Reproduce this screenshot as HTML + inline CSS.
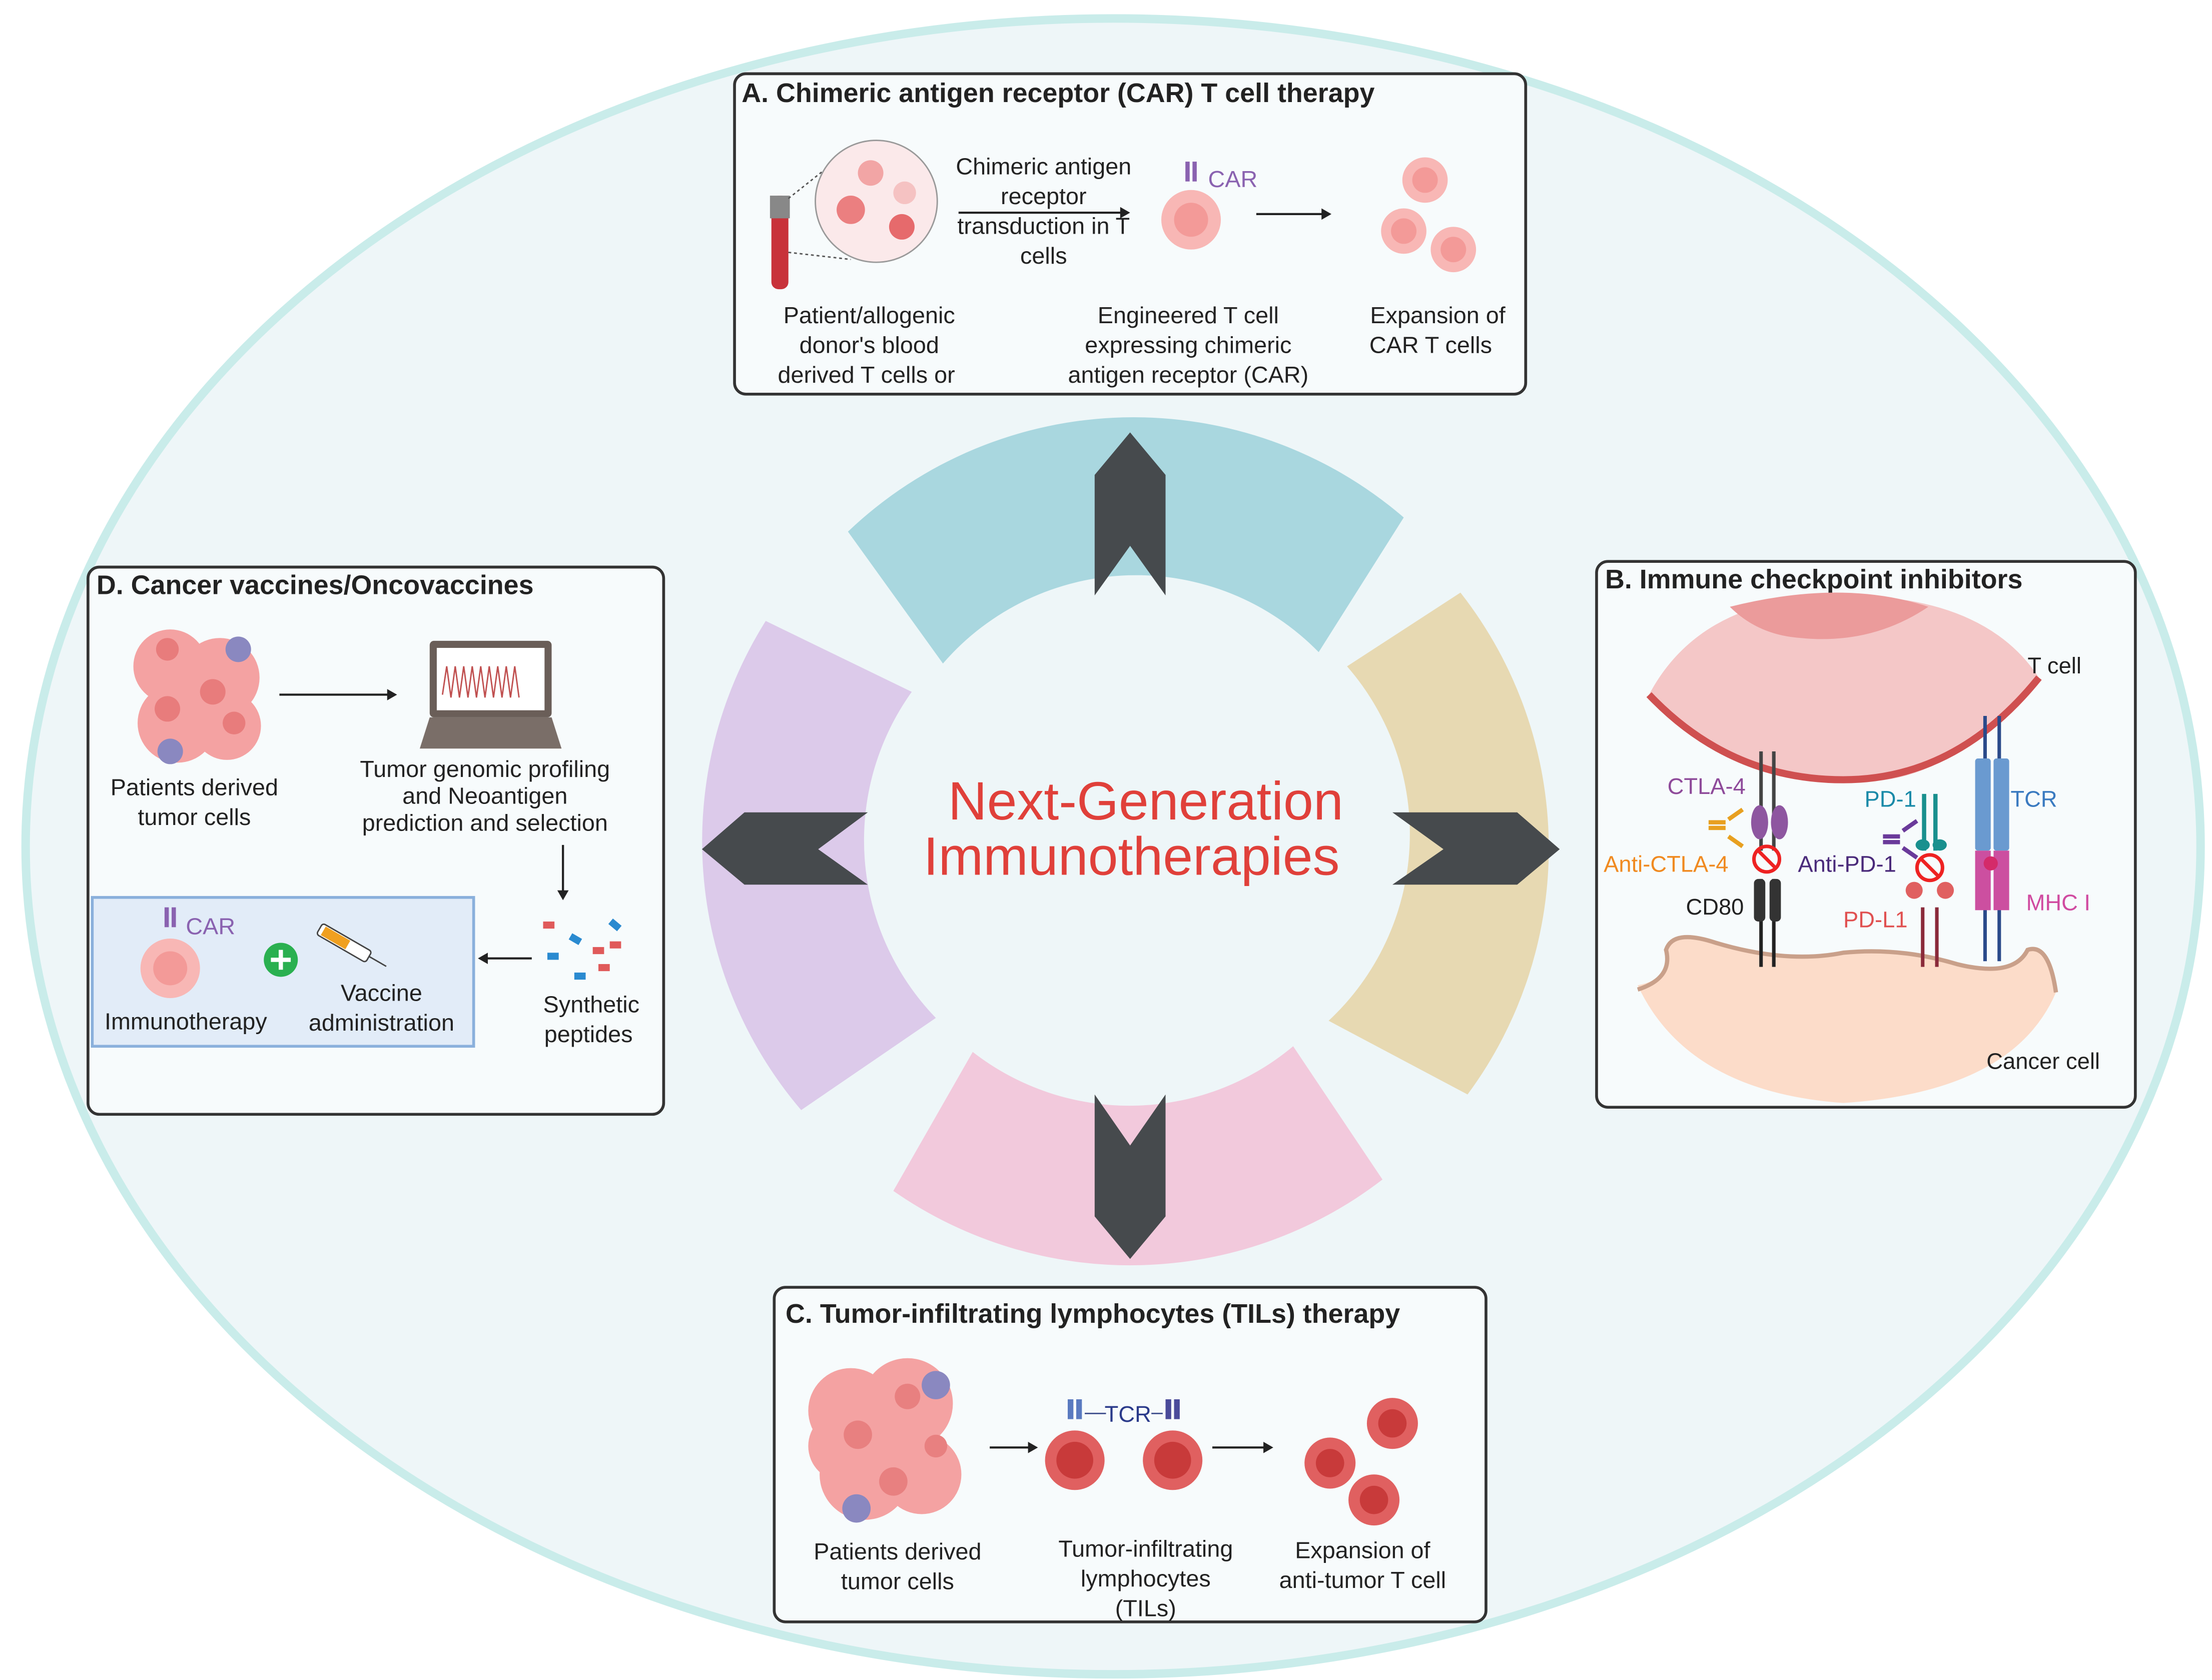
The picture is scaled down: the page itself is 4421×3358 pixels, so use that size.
<!DOCTYPE html>
<html><head><meta charset="utf-8"><style>
html,body{margin:0;padding:0;background:#fff;}
svg{display:block;}
text{font-family:"Liberation Sans",sans-serif;}
</style></head><body>
<svg width="4421" height="3358" viewBox="0 0 1560 1185" xmlns="http://www.w3.org/2000/svg">
<rect width="1560" height="1185" fill="#fff"/>
<ellipse cx="785" cy="597" rx="767" ry="584" fill="#eef6f8" stroke="#c9ecea" stroke-width="6"/>

<g transform="translate(797,592)">
<path d="M-199,-217 A292,292 0 0 1 193,-227 L133,-132 A180,180 0 0 0 -132,-124 Z" fill="#a9d7df"/>
<path d="M233,-174 A292,292 0 0 1 238,180 L140,128 A180,180 0 0 0 153,-122 Z" fill="#e7d9b2"/>
<path d="M-167,248 A292,292 0 0 0 178,240 L115,146 A180,180 0 0 1 -111,150 Z" fill="#f2c9dc"/>
<path d="M-257,-154 A292,292 0 0 0 -232,191 L-137,126 A180,180 0 0 1 -154,-104 Z" fill="#dccaea"/>
</g>
<g fill="#464a4d">
<path d="M797,305 L822,335 L822,420 L797,385 L772,420 L772,335 Z"/>
<path d="M797,888 L822,858 L822,772 L797,808 L772,772 L772,858 Z"/>
<path d="M1100,599 L1070,624 L982,624 L1018,599 L982,573 L1070,573 Z"/>
<path d="M495,599 L525,624 L612,624 L577,599 L612,573 L525,573 Z"/>
</g>
<text x="808" y="578" text-anchor="middle" font-size="38" fill="#e0403a">Next-Generation</text>
<text x="798" y="617" text-anchor="middle" font-size="38" fill="#e0403a">Immunotherapies</text>

<!-- Box A -->
<rect x="518" y="52" width="558" height="226" rx="8" fill="#f7fbfc" stroke="#333" stroke-width="2"/>
<text x="523" y="72" font-size="19" font-weight="bold" fill="#222">A. Chimeric antigen receptor (CAR) T cell therapy</text>
<rect x="544" y="138" width="12" height="66" rx="5" fill="#c8323a"/>
<rect x="543" y="138" width="14" height="16" fill="#888"/>
<line x1="556" y1="140" x2="590" y2="113" stroke="#555" stroke-dasharray="2,2"/>
<line x1="556" y1="178" x2="600" y2="183" stroke="#555" stroke-dasharray="2,2"/>
<circle cx="618" cy="142" r="43" fill="#fbe9ea" stroke="#999"/>
<circle cx="614" cy="122" r="9" fill="#f2a5a5"/><circle cx="600" cy="148" r="10" fill="#eb7f80"/><circle cx="636" cy="160" r="9" fill="#e66a6c"/><circle cx="638" cy="136" r="8" fill="#f5c2c2"/>
<g font-size="16.5" fill="#222" text-anchor="middle">
<text x="736" y="123">Chimeric antigen</text><text x="736" y="144">receptor</text><text x="736" y="165">transduction in T</text><text x="736" y="186">cells</text>
<text x="613" y="228">Patient/allogenic</text><text x="613" y="249">donor's blood</text><text x="611" y="270">derived T cells or</text>
<text x="838" y="228">Engineered T cell</text><text x="838" y="249">expressing chimeric</text><text x="838" y="270">antigen receptor (CAR)</text>
<text x="1014" y="228">Expansion of</text><text x="1009" y="249">CAR T cells</text>
</g>
<line x1="676" y1="150" x2="795" y2="150" stroke="#222" stroke-width="1.5"/><path d="M797,150 l-7,-4 v8z" fill="#222"/>
<circle cx="840" cy="155" r="21" fill="#f8b7b5"/><circle cx="840" cy="155" r="12" fill="#f39a98"/>
<rect x="836" y="114" width="3" height="14" fill="#8a62b0"/><rect x="841" y="114" width="3" height="14" fill="#8a62b0"/>
<text x="852" y="132" font-size="16.5" fill="#8a62b0">CAR</text>
<line x1="886" y1="151" x2="935" y2="151" stroke="#222" stroke-width="1.5"/><path d="M939,151 l-7,-4 v8z" fill="#222"/>
<circle cx="1005" cy="127" r="16" fill="#f8b7b5"/><circle cx="1005" cy="127" r="9" fill="#f39a98"/>
<circle cx="990" cy="163" r="16" fill="#f8b7b5"/><circle cx="990" cy="163" r="9" fill="#f39a98"/>
<circle cx="1025" cy="176" r="16" fill="#f8b7b5"/><circle cx="1025" cy="176" r="9" fill="#f39a98"/>

<!-- Box B -->
<rect x="1126" y="396" width="380" height="385" rx="8" fill="#f7fbfc" stroke="#333" stroke-width="2"/>
<text x="1132" y="415" font-size="19" font-weight="bold" fill="#222">B. Immune checkpoint inhibitors</text>
<path d="M1163,490 Q1200,420 1300,420 Q1400,420 1438,478 Q1370,560 1300,550 Q1220,550 1163,490Z" fill="#f4c7c7"/>
<path d="M1220,428 Q1300,408 1360,428 Q1320,455 1270,450 Q1240,448 1220,428Z" fill="#eb9b9b"/>
<path d="M1163,490 Q1220,550 1300,550 Q1380,550 1438,478" fill="none" stroke="#cf5050" stroke-width="5"/>
<path d="M1155,695 Q1180,690 1175,670 Q1180,655 1210,665 Q1260,680 1300,672 Q1340,668 1380,680 Q1420,690 1430,670 Q1445,665 1450,700 Q1420,770 1300,778 Q1190,770 1155,695Z" fill="#fcdcc9"/>
<path d="M1155,698 Q1180,690 1175,670 Q1180,655 1210,665 Q1260,680 1300,672 Q1340,668 1380,680 Q1420,690 1430,670 Q1445,665 1450,700" fill="none" stroke="#c9a08a" stroke-width="3"/>
<g stroke-width="2.5" fill="none">
<path d="M1242,530 V600 M1251,530 V600" stroke="#444"/>
<path d="M1242,620 V682 M1251,620 V682" stroke="#222"/>
<path d="M1357,560 V600 M1365,560 V600" stroke="#19908e" stroke-width="3"/>
<path d="M1356,640 V682 M1366,640 V682" stroke="#8a2a3a"/>
<path d="M1400,505 V535 M1410,505 V535 M1400,640 V678 M1410,640 V678" stroke="#2a4a8a"/>
</g>
<ellipse cx="1241" cy="580" rx="6" ry="12" fill="#8e56a0"/><ellipse cx="1255" cy="580" rx="6" ry="12" fill="#8e56a0"/>
<rect x="1237" y="620" width="8" height="30" rx="3" fill="#333"/><rect x="1248" y="620" width="8" height="30" rx="3" fill="#333"/>
<circle cx="1246" cy="606" r="9" fill="none" stroke="#e22" stroke-width="2.5"/><line x1="1240" y1="600" x2="1252" y2="612" stroke="#e22" stroke-width="2.5"/>
<circle cx="1361" cy="612" r="9" fill="none" stroke="#e22" stroke-width="2.5"/><line x1="1355" y1="606" x2="1367" y2="618" stroke="#e22" stroke-width="2.5"/>
<ellipse cx="1356" cy="596" rx="5" ry="4" fill="#19908e"/><ellipse cx="1368" cy="596" rx="5" ry="4" fill="#19908e"/>
<circle cx="1350" cy="628" r="6" fill="#e06060"/><circle cx="1372" cy="628" r="6" fill="#e06060"/>
<rect x="1393" y="535" width="11" height="65" rx="2" fill="#6a9ad0"/><rect x="1406" y="535" width="11" height="65" rx="2" fill="#6a9ad0"/>
<rect x="1393" y="600" width="11" height="42" fill="#cc4fa0"/><rect x="1406" y="600" width="11" height="42" fill="#cc4fa0"/>
<circle cx="1404" cy="609" r="5" fill="#d42a6a"/>
<path d="M1205,580 h12 M1205,584 h12 M1219,578 l10,-7 M1219,590 l10,7" stroke="#e8a020" stroke-width="3"/>
<path d="M1328,590 h12 M1328,594 h12 M1342,586 l10,-7 M1342,598 l10,7" stroke="#6a3a9a" stroke-width="3"/>
<g font-size="16">
<text x="1430" y="475" fill="#222">T cell</text>
<text x="1176" y="560" fill="#8e4a9a">CTLA-4</text>
<text x="1315" y="569" fill="#1a8aa8">PD-1</text>
<text x="1418" y="569" fill="#3a7ac0">TCR</text>
<text x="1131" y="615" fill="#f08a20">Anti-CTLA-4</text>
<text x="1268" y="615" fill="#4a2a7a">Anti-PD-1</text>
<text x="1189" y="645" fill="#222">CD80</text>
<text x="1300" y="654" fill="#e05050">PD-L1</text>
<text x="1429" y="642" fill="#d04aa0">MHC I</text>
<text x="1401" y="754" fill="#222">Cancer cell</text>
</g>

<!-- Box C -->
<rect x="546" y="908" width="502" height="236" rx="8" fill="#f7fbfc" stroke="#333" stroke-width="2"/>
<text x="554" y="933" font-size="19" font-weight="bold" fill="#222">C. Tumor-infiltrating lymphocytes (TILs) therapy</text>
<g fill="#f4a2a2"><circle cx="600" cy="995" r="30"/><circle cx="640" cy="990" r="32"/><circle cx="610" cy="1040" r="32"/><circle cx="650" cy="1040" r="28"/><circle cx="595" cy="1020" r="25"/></g>
<g fill="#e88080"><circle cx="605" cy="1012" r="10"/><circle cx="640" cy="985" r="9"/><circle cx="630" cy="1045" r="10"/><circle cx="660" cy="1020" r="8"/></g>
<circle cx="660" cy="977" r="10" fill="#8a88c0"/><circle cx="604" cy="1064" r="10" fill="#8a88c0"/>
<line x1="698" y1="1021" x2="727" y2="1021" stroke="#222" stroke-width="1.5"/><path d="M732,1021 l-7,-4 v8z" fill="#222"/>
<circle cx="758" cy="1030" r="21" fill="#e06060"/><circle cx="758" cy="1030" r="13" fill="#c83a3a"/>
<circle cx="827" cy="1030" r="21" fill="#e06060"/><circle cx="827" cy="1030" r="13" fill="#c83a3a"/>
<rect x="753" y="987" width="4" height="14" fill="#5a7ac0"/><rect x="759" y="987" width="4" height="14" fill="#5a7ac0"/>
<rect x="822" y="987" width="4" height="14" fill="#4a4a9a"/><rect x="828" y="987" width="4" height="14" fill="#4a4a9a"/>
<line x1="765" y1="997" x2="780" y2="997" stroke="#3a4a8a"/><line x1="812" y1="997" x2="820" y2="997" stroke="#3a4a8a"/>
<text x="779" y="1003" font-size="16" fill="#2a3a8a">TCR</text>
<line x1="855" y1="1021" x2="893" y2="1021" stroke="#222" stroke-width="1.5"/><path d="M898,1021 l-7,-4 v8z" fill="#222"/>
<circle cx="982" cy="1004" r="18" fill="#e06060"/><circle cx="982" cy="1004" r="10" fill="#c83a3a"/>
<circle cx="938" cy="1032" r="18" fill="#e06060"/><circle cx="938" cy="1032" r="10" fill="#c83a3a"/>
<circle cx="969" cy="1058" r="18" fill="#e06060"/><circle cx="969" cy="1058" r="10" fill="#c83a3a"/>
<g font-size="16.5" fill="#222" text-anchor="middle">
<text x="633" y="1100">Patients derived</text><text x="633" y="1121">tumor cells</text>
<text x="808" y="1098">Tumor-infiltrating</text><text x="808" y="1119">lymphocytes</text><text x="808" y="1140">(TILs)</text>
<text x="961" y="1099">Expansion of</text><text x="961" y="1120">anti-tumor T cell</text>
</g>

<!-- Box D -->
<rect x="62" y="400" width="406" height="386" rx="8" fill="#f7fbfc" stroke="#333" stroke-width="2"/>
<text x="68" y="419" font-size="19" font-weight="bold" fill="#222">D. Cancer vaccines/Oncovaccines</text>
<g fill="#f4a2a2"><circle cx="120" cy="470" r="26"/><circle cx="155" cy="478" r="28"/><circle cx="125" cy="510" r="28"/><circle cx="160" cy="512" r="24"/></g>
<g fill="#e87c7c"><circle cx="118" cy="458" r="8"/><circle cx="150" cy="488" r="9"/><circle cx="165" cy="510" r="8"/><circle cx="118" cy="500" r="9"/></g>
<circle cx="168" cy="458" r="9" fill="#8a88c0"/><circle cx="120" cy="530" r="9" fill="#8a88c0"/>
<line x1="197" y1="490" x2="275" y2="490" stroke="#222" stroke-width="1.5"/><path d="M280,490 l-7,-4 v8z" fill="#222"/>
<rect x="303" y="452" width="86" height="54" rx="3" fill="#6a5e58"/><rect x="308" y="457" width="76" height="44" fill="#fff"/>
<path d="M312,490 l3,-20 3,22 3,-22 3,22 3,-22 3,22 3,-22 3,22 3,-22 3,22 3,-22 3,22 3,-22 3,22 3,-22 3,22 3,-22 3,22" fill="none" stroke="#c05050" stroke-width="1"/>
<path d="M296,528 L303,506 H389 L396,528 Z" fill="#7a6e68"/>
<g font-size="16.5" fill="#222" text-anchor="middle">
<text x="137" y="561">Patients derived</text><text x="137" y="582">tumor cells</text>
<text x="342" y="548">Tumor genomic profiling</text><text x="342" y="567">and Neoantigen</text><text x="342" y="586">prediction and selection</text>
<text x="417" y="714">Synthetic</text><text x="415" y="735">peptides</text>
</g>
<line x1="397" y1="596" x2="397" y2="630" stroke="#222" stroke-width="1.5"/><path d="M397,635 l-4,-7 h8z" fill="#222"/>
<g fill="#2a8ad0"><rect x="402" y="660" width="8" height="5" transform="rotate(30 406 662)"/><rect x="386" y="672" width="8" height="5"/><rect x="405" y="686" width="8" height="5"/><rect x="430" y="650" width="8" height="5" transform="rotate(40 434 652)"/></g>
<g fill="#e05a5a"><rect x="383" y="650" width="8" height="5"/><rect x="418" y="668" width="8" height="5"/><rect x="430" y="664" width="8" height="5"/><rect x="422" y="680" width="8" height="5"/></g>
<line x1="375" y1="676" x2="342" y2="676" stroke="#222" stroke-width="1.5"/><path d="M337,676 l7,-4 v8z" fill="#222"/>
<rect x="65" y="633" width="269" height="105" fill="#e2ecf8" stroke="#8ab0dc" stroke-width="2"/>
<circle cx="120" cy="683" r="21" fill="#f8b7b5"/><circle cx="120" cy="683" r="12" fill="#f39a98"/>
<rect x="116" y="640" width="3" height="14" fill="#8a62b0"/><rect x="121" y="640" width="3" height="14" fill="#8a62b0"/>
<text x="131" y="659" font-size="16.5" fill="#8a62b0">CAR</text>
<circle cx="198" cy="677" r="12" fill="#2ab050"/><path d="M191,677h14M198,670v14" stroke="#fff" stroke-width="3"/>
<g transform="rotate(30 245 667)"><rect x="222" y="662" width="40" height="9" rx="2" fill="#fff" stroke="#444"/><rect x="225" y="663" width="20" height="7" fill="#f0a020"/><line x1="262" y1="666" x2="276" y2="666" stroke="#444"/></g>
<g font-size="16.5" fill="#222" text-anchor="middle">
<text x="269" y="706">Vaccine</text><text x="269" y="727">administration</text>
<text x="131" y="726">Immunotherapy</text>
</g>
</svg>
</body></html>
